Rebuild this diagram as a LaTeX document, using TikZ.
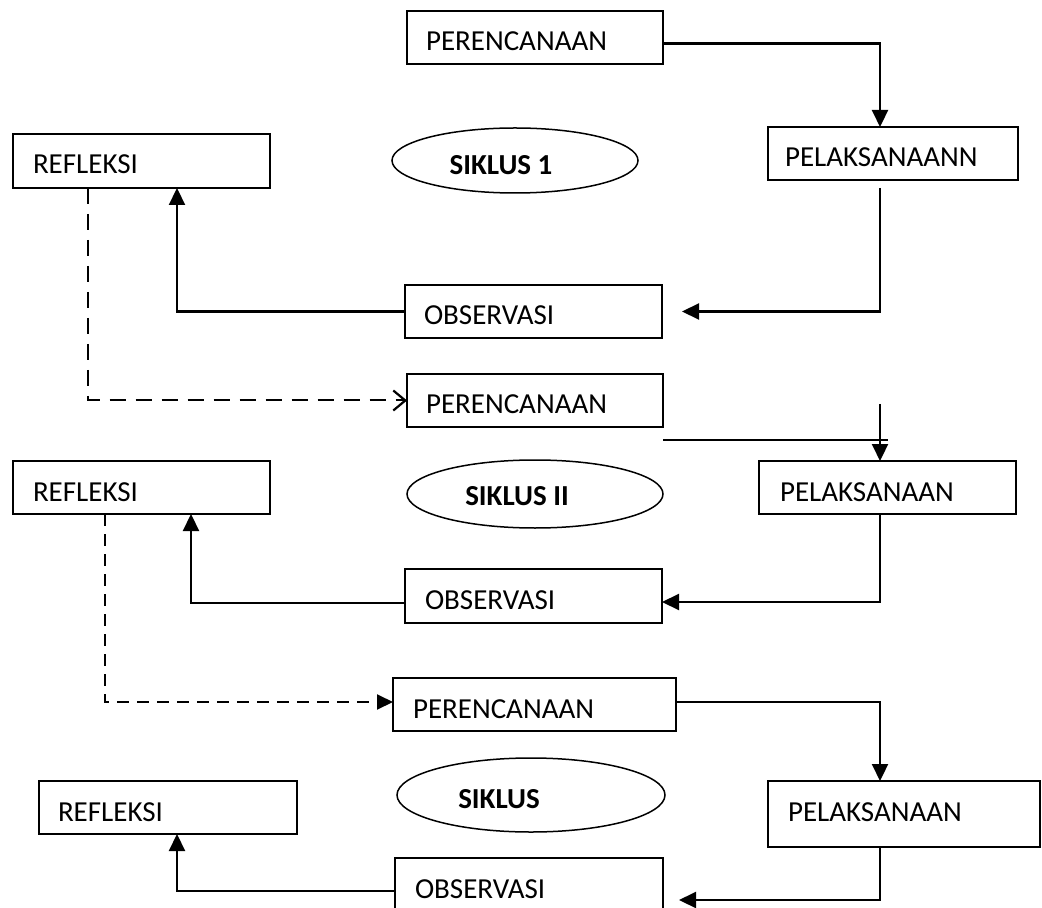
\documentclass[tikz,border=0pt]{standalone}
\usepackage{fontspec}
\setmainfont{Carlito}
\usetikzlibrary{shapes.geometric,arrows.meta,calc}
\tikzset{
  stepbox/.style={draw, line width=0.95pt, rectangle, inner ysep=6.5pt, outer sep=0pt,
    align=left, text height=13.5pt, font=\fontsize{14.5}{17}\selectfont},
  cyc/.style={draw, ellipse, line width=0.75pt, inner sep=0pt, outer sep=0pt},
  lbl/.style={font=\bfseries\fontsize{14.5}{17}\selectfont, inner sep=0pt},
  conn/.style={line width=1.1pt, -{Triangle[length=8.5pt,width=8pt]}},
  plainline/.style={line width=1pt},
  dashconnA/.style={line width=1pt, dash pattern=on 8pt off 5pt,
    -{Straight Barb[length=6pt,width=10pt,line width=1.1pt]}},
  dashconnB/.style={line width=1pt, dash pattern=on 6pt off 4pt,
    -{Triangle[length=8pt,width=7.5pt]}}
}
\newcommand\flowbox[7]{%
  \pgfmathsetmacro\fbw{(#4-#2)*0.5}%
  \pgfmathsetmacro\fbh{(#5-#3)*0.5}%
  \pgfmathsetmacro\fbp{#6*0.5}%
  \pgfmathsetmacro\fbt{\fbw-2*\fbp}%
  \pgfmathsetmacro\fbd{max(0,\fbh-26.5)}%
  \node[stepbox, anchor=north west, minimum width=\fbw pt, minimum height=\fbh pt,
    inner xsep=\fbp pt, text width=\fbt pt, text depth=\fbd pt] (#1) at (#2,#3) {#7};%
}
\begin{document}
\begin{tikzpicture}[x=0.5pt,y=-0.5pt]
\clip (0,0) rectangle (1042,908);
\coordinate (cx) at (880,0);

% cycle 1
\flowbox{P1}{407}{11}{663}{63}{19}{PERENCANAAN}
\flowbox{L1}{768}{127}{1018}{180}{17}{PELAKSANAANN}
\flowbox{R1}{13}{134}{270}{188}{20}{REFLEKSI}
\flowbox{O1}{405}{285}{662}{338}{19}{OBSERVASI}
\node[cyc, minimum width=123pt, minimum height=32.5pt,
  label={[lbl,xshift=-7pt,yshift=-2.5pt]center:SIKLUS 1}] (E1) at (515,160.5) {};

% cycle 2
\flowbox{P2}{407}{374}{663}{427}{19}{PERENCANAAN}
\flowbox{R2}{13}{461}{270}{514}{20}{REFLEKSI}
\flowbox{L2}{759}{461}{1016}{514}{21}{PELAKSANAAN}
\flowbox{O2}{405}{569}{662}{623}{20}{OBSERVASI}
\node[cyc, minimum width=128pt, minimum height=34pt,
  label={[lbl,xshift=-9pt,yshift=-1pt]center:SIKLUS II}] (E2) at (535,494) {};

% cycle 3
\flowbox{P3}{393}{678}{676}{731}{20}{PERENCANAAN}
\flowbox{R3}{39}{781}{297}{832}{19}{REFLEKSI}
\flowbox{L3}{768}{781}{1040}{847}{20}{PELAKSANAAN}
\flowbox{O3}{395}{858}{663}{912}{20}{OBSERVASI}
\node[cyc, minimum width=134pt, minimum height=37pt,
  label={[lbl,xshift=-16pt,yshift=-2pt]center:SIKLUS}] (E3) at (531,795) {};

% connectors cycle 1
\draw[conn] ([yshift=-3pt]P1.east) -| (cx |- L1.north);
\draw[conn] ($(cx |- L1.south)+(0,8)$) |- ($(O1.east)+(20,0)$);
\draw[conn] (O1.west) -| ($(R1.south west)+(164,0)$);
\draw[dashconnA] ($(R1.south west)+(75,0)$) |- (P2.west);

% connectors cycle 2
\coordinate (T2) at (880,404);
\draw[plainline] ($(P2.south east)+(0,13)$) -- ++(225,0);
\draw[conn] (T2) -- (cx |- L2.north);
\draw[conn] (cx |- L2.south) |- ($(O2.east)+(0,6)$);
\draw[conn] ($(O2.west)+(0,7)$) -| ($(R2.south west)+(178,0)$);
\draw[dashconnB] ($(R2.south west)+(92,0)$) |- ($(P3.west)+(0,-2.5)$);

% connectors cycle 3
\draw[conn] ($(P3.east)+(0,-2.5)$) -| (cx |- L3.north);
\draw[conn] (cx |- L3.south) |- ($(O3.east)+(16,15)$);
\draw[conn] ($(O3.west)+(0,6)$) -| ($(R3.south west)+(138,0)$);
\end{tikzpicture}
\end{document}
